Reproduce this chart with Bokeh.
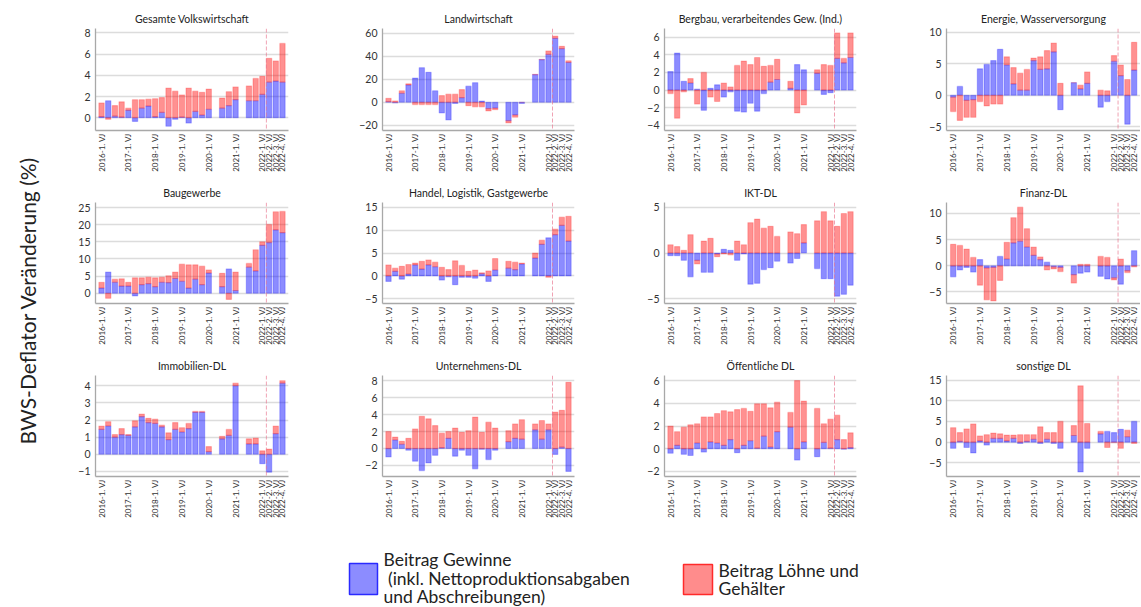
import math
from bokeh.plotting import figure
from bokeh.layouts import row, column
from bokeh.models import Range1d, FixedTicker, Span, ColumnDataSource
from bokeh.embed import file_html
from bokeh.resources import INLINE
from bokeh.core.properties import value

# ---------------- data ----------------
quarters = [f"{y}-{q}. VJ" for y in range(2016, 2023) for q in range(1, 5)]
tick_labels = ["2016-1. VJ", "2017-1. VJ", "2018-1. VJ", "2019-1. VJ", "2020-1. VJ",
               "2021-1. VJ", "2022-1. VJ", "2022-2. VJ", "2022-3. VJ", "2022-4. VJ"]
event_position = 24.6  # 24.02.2022, inside 2022-1. VJ

y_title = "BWS-Deflator Veränderung (%)"
legend_labels = ["Beitrag Gewinne\n\u00a0(inkl. Nettoproduktionsabgaben\nund Abschreibungen)",
                 "Beitrag Löhne und\nGehälter"]

titles = ["Gesamte Volkswirtschaft", "Landwirtschaft", "Bergbau, verarbeitendes Gew. (Ind.)",
          "Energie, Wasserversorgung", "Baugewerbe", "Handel, Logistik, Gastgewerbe",
          "IKT-DL", "Finanz-DL", "Immobilien-DL", "Unternehmens-DL", "Öffentliche DL", "sonstige DL"]

gesamt_gewinne = [0.1, 1.6, 0.15, 0.05, 0.7, -0.35, 0.9, 1.1, 0.1, 0.5, -0.8, -0.15, 0.05, -0.5, 0.6, 0.25, 0.8, None, 0.9, 1.15, 1.7, None, 1.6, 1.6, 2.2, 3.35, 3.45, 3.35]
gesamt_loehne = [1.3, -0.15, 1.0, 1.45, 0.2, 1.7, 0.8, 0.65, 1.7, 1.4, 2.8, 2.5, 2.1, 2.8, 1.9, 2.15, 1.9, None, 0.95, 1.3, 1.2, None, 1.4, 2.1, 1.7, 2.25, 1.9, 3.65]

landw_gewinne = [0.5, -0.5, 7.8, 15.0, 21.0, 30.0, 26.0, 10.0, -9.3, -15.4, -1.0, 4.0, 14.0, 17.0, 1.0, -5.5, -5.0, None, -16.0, -11.0, -1.0, None, 24.0, 37.0, 41.5, 55.5, 46.5, 34.5]
landw_loehne = [3.0, 1.2, 2.2, 1.0, -2.0, -2.0, -2.0, -2.0, 5.8, 7.0, 7.0, 7.0, -3.0, -4.0, -4.0, -2.0, -1.5, None, -2.0, -2.0, 0.0, None, 0.3, 0.3, 3.0, 2.0, 2.0, 1.5]

bergbau_gewinne = [2.1, 4.2, 1.0, 0.8, 0.1, -2.3, 0.2, 0.6, -0.8, -0.2, -2.4, -2.5, -1.5, -2.4, -0.4, 0.9, 1.2, None, 0.2, 2.9, 2.3, None, 1.9, -0.5, -0.3, 3.6, 3.1, 3.7]
bergbau_loehne = [-0.4, -3.2, -0.2, 0.5, -1.6, 2.0, -0.8, -1.3, 0.8, 0.35, 2.8, 3.3, 2.9, 3.7, 2.7, 1.9, 2.3, None, 0.8, -2.6, -1.7, None, 0.4, 2.9, 2.8, 2.9, 0.5, 2.8]

energie_gewinne = [-0.3, 1.4, -0.8, -0.7, 4.2, 4.9, 5.5, 7.3, 4.8, 1.8, 0.8, 0.8, 5.5, 4.1, 4.2, 6.9, -2.3, None, 2.0, 1.0, 1.9, None, -1.9, -1.0, 5.4, 3.1, -4.6, 4.0]
energie_loehne = [-2.3, -4.0, -2.7, -2.8, -1.0, -1.7, -1.4, -1.4, 1.3, 2.6, 2.7, 3.3, 0.4, 2.0, 2.9, 1.4, 1.9, None, 0.0, 0.6, 1.8, None, 0.8, 0.7, 0.9, 1.7, 2.5, 4.4]

bau_gewinne = [1.5, 6.2, 3.2, 2.1, 2.1, -0.8, 2.5, 2.8, 1.9, 3.2, 3.1, 4.3, 3.5, 1.5, 4.1, 2.5, 5.9, None, 1.9, 7.1, 0.8, None, 7.6, 6.5, 14.0, 14.8, 18.5, 17.7]
bau_loehne = [1.7, -1.5, 0.9, 2.1, 1.1, 4.5, 2.0, 1.9, 2.6, 1.5, 2.0, 1.9, 5.0, 6.8, 4.2, 5.4, 0.9, None, 3.9, -1.8, 5.4, None, 1.1, 6.2, 1.0, 5.3, 5.3, 6.2]

handel_gewinne = [-1.2, 1.0, -0.7, 0.4, 2.4, 1.5, 2.4, 2.0, -0.9, -0.2, -1.9, -0.3, -0.3, -0.5, 0.5, -1.2, 1.3, None, 1.7, 1.4, 2.6, None, 3.9, 6.9, 8.3, 9.0, 11.0, 7.6]
handel_loehne = [2.4, 0.7, 2.1, 2.1, 0.4, 1.7, 1.1, 1.0, 1.9, 1.4, 3.3, 2.3, 1.0, 1.3, 0.2, 1.1, 2.5, None, 1.5, 1.6, 0.2, None, 1.1, 0.9, -0.3, 1.2, 1.8, 5.4]

ikt_gewinne = [-0.3, -0.3, -0.8, -2.6, -0.8, -2.1, -2.1, -0.1, 0.4, 0.3, -0.8, -0.1, -3.4, -3.3, -1.8, -1.6, -0.9, None, -1.1, -0.6, 1.1, None, -1.7, -2.8, -2.8, -4.7, -4.5, -3.5]
ikt_loehne = [0.9, 0.7, 0.3, 2.0, -0.4, 1.3, 1.6, -0.3, -0.1, -0.2, 1.3, 0.9, 3.3, 3.7, 2.7, 2.9, 1.8, None, 2.3, 2.1, 2.0, None, 3.5, 4.5, 3.5, 2.9, 4.3, 4.5]

finanz_gewinne = [-2.1, -0.8, -0.3, -1.2, 1.2, -0.4, -0.3, 1.8, 1.3, 4.4, 4.7, 3.6, 2.0, 1.2, 0.7, -0.2, -0.3, None, -1.7, -1.4, -1.2, None, -2.0, -2.5, -2.3, -3.5, -0.9, 2.9]
finanz_loehne = [4.1, 3.9, 3.2, 1.6, -3.7, -6.1, -6.4, -2.8, 3.2, 4.8, 6.5, 3.5, 1.6, 0.5, -0.8, -0.4, -0.8, None, -1.6, 0.3, 0.3, None, 1.8, 1.6, -0.4, 1.3, -0.4, -0.2]

immo_gewinne = [1.45, 1.65, 1.0, 1.15, 1.1, 1.6, 2.2, 1.85, 1.8, 1.6, 0.85, 1.45, 1.3, 1.5, 2.45, 2.45, 0.15, None, 0.9, 1.1, 4.0, None, 0.6, 0.6, -0.55, -1.05, 1.2, 4.15]
immo_loehne = [0.2, 0.25, 0.15, 0.35, 0.05, 0.35, 0.15, 0.25, 0.25, 0.1, 0.4, 0.4, 0.25, 0.3, 0.05, 0.05, 0.3, None, 0.15, 0.35, 0.15, None, 0.3, 0.35, 0.2, 0.3, 0.45, 0.15]

untern_gewinne = [-1.0, 1.0, 0.5, -0.2, -1.5, -2.6, -1.7, -0.8, 0.1, 1.2, -0.9, -0.2, -0.8, -2.4, -0.1, -1.3, -0.2, None, 0.8, 1.2, 1.1, None, 2.2, 1.1, 2.2, -0.7, 0.15, -2.7]
untern_loehne = [2.0, 0.35, 0.35, 1.2, 2.3, 3.8, 3.5, 2.7, 1.7, 0.8, 2.4, 1.9, 2.1, 3.7, 1.9, 3.1, 2.4, None, 1.3, 1.7, 2.3, None, 0.7, 2.2, 0.7, 4.3, 4.35, 7.8]

oeff_gewinne = [-0.4, 0.3, -0.5, -0.6, 0.5, -0.3, 0.6, 0.5, 0.3, 0.8, -0.35, 0.3, 0.7, 0.05, 1.1, 0.15, 1.5, None, 1.9, -1.0, 0.6, None, -0.7, 0.55, 0.05, 0.8, -0.05, 0.1]
oeff_loehne = [2.0, 1.2, 1.9, 2.1, 1.7, 2.8, 2.2, 2.6, 3.05, 2.45, 3.45, 3.25, 2.6, 3.9, 2.85, 3.45, 2.6, None, 1.3, 6.0, 3.6, None, 3.55, 1.65, 2.55, 2.15, 0.8, 1.3]

sonst_gewinne = [-1.5, 0.2, -1.3, -2.6, 0.3, -0.7, 0.9, 0.9, 0.3, 0.9, -0.3, 0.2, 0.7, -0.3, 0.7, -0.3, -1.5, None, 1.6, -7.2, -1.5, None, 2.0, 2.6, 2.3, 3.1, 1.3, 5.0]
sonst_loehne = [3.5, 2.1, 3.2, 4.4, 1.2, 1.8, 1.3, 1.1, 1.4, 0.8, 1.8, 1.6, 1.1, 3.7, 1.6, 2.3, 5.0, None, 2.4, 13.6, 4.5, None, 0.6, -1.3, -0.1, -1.5, 1.6, -0.3]

y_ranges = [(-1.2, 8.4), (-24.5, 64), (-4.6, 7.0), (-5.6, 10.6),
            (-3.0, 26.5), (-6.0, 16.0), (-5.5, 5.5), (-7.2, 12.1),
            (-1.3, 4.6), (-3.3, 8.6), (-2.45, 6.45), (-8.3, 16.1)]
y_ticks = [[0, 2, 4, 6, 8], [-20, 0, 20, 40, 60], [-4, -2, 0, 2, 4, 6], [-5, 0, 5, 10],
           [0, 5, 10, 15, 20, 25], [-5, 0, 5, 10, 15], [-5, 0, 5], [-5, 0, 5, 10],
           [-1, 0, 1, 2, 3, 4], [-2, 0, 2, 4, 6, 8], [-2, 0, 2, 4, 6], [-5, 0, 5, 10, 15]]

series = [(gesamt_gewinne, gesamt_loehne), (landw_gewinne, landw_loehne),
          (bergbau_gewinne, bergbau_loehne), (energie_gewinne, energie_loehne),
          (bau_gewinne, bau_loehne), (handel_gewinne, handel_loehne),
          (ikt_gewinne, ikt_loehne), (finanz_gewinne, finanz_loehne),
          (immo_gewinne, immo_loehne), (untern_gewinne, untern_loehne),
          (oeff_gewinne, oeff_loehne), (sonst_gewinne, sonst_loehne)]

# ---------------- styling / layout ----------------
FONT = "Lato"
BLUE = "#0000ff"
RED = "#ff0000"
TOTAL_W, TOTAL_H = 1140, 606
YLAB_W = 48
ROW_H = [181, 173, 173]
ROW_TOP = [28, 20, 20]
COL_W = [285, 282, 282]
COL_W.append(TOTAL_W - YLAB_W - sum(COL_W))
COL_LEFT = [47, 49, 49, 49]
COL_RIGHT = [45, 41, 41, 0]
COL_XR = [(-0.9, 27.9), (-0.9, 27.9), (-0.9, 27.9), (-1.0, 27.95)]
LEG_H = TOTAL_H - sum(ROW_H)

tick_pos = [quarters.index(t) for t in tick_labels]


def stack(blue, red):
    xs, bb, bt, rb, rt = [], [], [], [], []
    for i, (b, r) in enumerate(zip(blue, red)):
        if b is None or r is None:
            continue
        pos, neg = 0.0, 0.0
        out = []
        for v in (b, r):
            if v >= 0:
                out.append((pos, pos + v))
                pos += v
            else:
                out.append((neg, neg + v))
                neg += v
        xs.append(i)
        bb.append(out[0][0]); bt.append(out[0][1])
        rb.append(out[1][0]); rt.append(out[1][1])
    return dict(x=xs, bb=bb, bt=bt, rb=rb, rt=rt)


def make_panel(k):
    c, r = k % 4, k // 4
    blue, red = series[k]
    p = figure(width=COL_W[c], height=ROW_H[r], x_range=Range1d(*COL_XR[c]),
               y_range=Range1d(*y_ranges[k]), output_backend="svg", toolbar_location=None,
               min_border_left=COL_LEFT[c], min_border_right=COL_RIGHT[c],
               min_border_top=ROW_TOP[r], min_border_bottom=51, title=titles[k])
    p.title.text_font = FONT
    p.title.text_font_size = "10.5px"
    p.title.text_font_style = "normal"
    p.title.text_color = "#222222"
    p.title.align = "center"
    p.title.standoff = 7
    p.outline_line_color = None
    p.background_fill_color = "white"

    p.xaxis.ticker = FixedTicker(ticks=tick_pos)
    p.xaxis.major_label_overrides = {pos: lbl for pos, lbl in zip(tick_pos, tick_labels)}
    p.xaxis.major_label_orientation = math.pi / 2
    p.xaxis.major_label_text_font_size = "8px"
    p.xaxis.major_label_standoff = 3
    p.yaxis.ticker = FixedTicker(ticks=y_ticks[k])
    p.yaxis.major_label_text_font_size = "10.5px"
    p.yaxis.major_label_standoff = 5
    for ax in (p.xaxis, p.yaxis):
        ax.major_label_text_font = FONT
        ax.major_label_text_color = "#333333"
        ax.axis_line_color = "#a8a8a8"
        ax.axis_line_width = 1.3
        ax.major_tick_line_color = None
        ax.minor_tick_line_color = None
        ax.major_tick_out = 0
        ax.major_tick_in = 0
    p.xgrid.grid_line_color = None
    p.ygrid.grid_line_color = "#dcdcdc"
    p.ygrid.grid_line_width = 1.5

    src = ColumnDataSource(stack(blue, red))
    p.vbar(x="x", bottom="bb", top="bt", width=0.8, source=src,
           fill_color=BLUE, fill_alpha=0.45, line_color=BLUE, line_alpha=0.22, line_width=1.2)
    p.vbar(x="x", bottom="rb", top="rt", width=0.8, source=src,
           fill_color=RED, fill_alpha=0.43, line_color=RED, line_alpha=0.2, line_width=1.2)
    p.add_layout(Span(location=event_position, dimension="height", line_color="#e8708a",
                      line_alpha=0.65, line_dash="4 2", line_width=1))
    return p


panels = [make_panel(k) for k in range(12)]
rows = [row(*panels[r * 4:(r + 1) * 4]) for r in range(3)]

# legend (window pixel coordinates)
leg_top = sum(ROW_H)
leg = figure(width=TOTAL_W - YLAB_W, height=LEG_H, x_range=Range1d(YLAB_W, TOTAL_W),
             y_range=Range1d(TOTAL_H, leg_top),
             output_backend="svg", toolbar_location=None, x_axis_type=None, y_axis_type=None,
             min_border=0)
leg.outline_line_color = None
leg.grid.visible = False
leg.rect(x=[363, 697.5], y=[578.5, 579], width=[28, 29], height=[31, 30],
         fill_color=["#8c8cff", "#ff8c8c"], line_color=["#2a2aff", "#ff2a2a"], line_width=1.5)
lines_b = legend_labels[0].split("\n")
lines_r = legend_labels[1].split("\n")
leg.text(x=[383] * len(lines_b) + [718] * len(lines_r),
         y=[559, 577.5, 596][:len(lines_b)] + [569.5, 588][:len(lines_r)],
         text=lines_b + lines_r, text_font=value(FONT), text_font_size="17.5px",
         text_baseline="middle", text_align="left", text_color="#222222")

# y title
yl = figure(width=YLAB_W, height=TOTAL_H, x_range=Range1d(0, YLAB_W), y_range=Range1d(TOTAL_H, 0),
            output_backend="svg", toolbar_location=None, x_axis_type=None, y_axis_type=None,
            min_border=0)
yl.outline_line_color = None
yl.grid.visible = False
yl.text(x=[27], y=[300], text=[y_title], angle=math.pi / 2, text_align="center",
        text_baseline="middle", text_font=value(FONT), text_font_size="21px", text_color="#222222")

layout = row(yl, column(*rows, leg))
open("out.html", "w").write(file_html(layout, INLINE))
